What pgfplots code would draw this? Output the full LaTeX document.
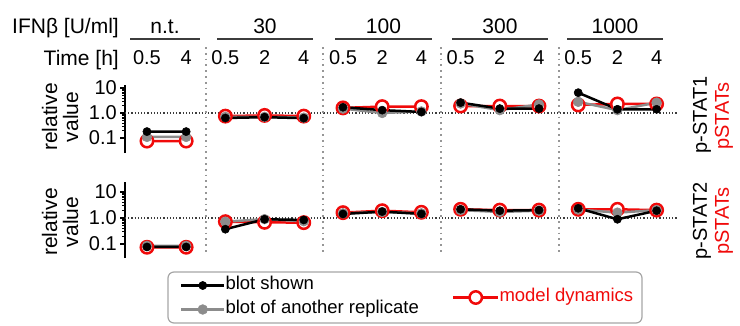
\documentclass[border=0pt]{standalone}
\usepackage{pgfplots}
\pgfplotsset{compat=1.18}
\usepackage{fontspec}
\setmainfont{Liberation Sans}
\definecolor{mred}{RGB}{240,10,10}
\definecolor{mgray}{RGB}{140,140,140}
\definecolor{sepgray}{RGB}{150,150,150}
\definecolor{hdr}{RGB}{60,60,60}
\tikzset{refline/.style={hdr, line width=1.2pt, dash pattern=on 1.2pt off 2pt}}
\pgfplotsset{
  blk/.style={black, line width=2.5pt, mark=*, mark size=4.1pt, mark options={line width=0.5pt}},
  gry/.style={mgray, line width=2.5pt, mark=*, mark size=4.9pt, mark options={line width=0.5pt}},
  mdl/.style={mred, line width=2.5pt, mark=*, mark size=6.2pt, mark options={fill=white, draw=mred, line width=2.5pt}},
}
\begin{document}
\begin{tikzpicture}[x=1pt,y=1pt]
\path[use as bounding box] (0,0) rectangle (740,325);
% ---------- Row 1: p-STAT1 ----------
\begin{axis}[at={(125pt,172pt)}, anchor=south west, width=552pt, height=68pt, scale only axis,
  xmin=-0.56, xmax=13.52,
  ymode=log, ymin=0.025, ymax=13.2,
  axis y line=left, axis x line=top,
  axis line style={-}, y axis line style={line width=1.8pt}, x axis line style={draw=none},
  ytick={0.1,1,10}, yticklabels={0.1,1.0,10},
  tick align=outside, major tick length=5pt, minor tick length=3pt,
  major tick style={black, line width=1.2pt},
  minor tick style={black, line width=0.6pt},
  yticklabel style={font=\fontsize{20}{20}\selectfont, inner sep=3pt},
  clip=false, unbounded coords=jump,
  xtick={0,...,13},
  xticklabels={0.5,4,0.5,2,4,0.5,2,4,0.5,2,4,0.5,2,4},
  xtick style={draw=none},
  xticklabel style={font=\fontsize{20}{20}\selectfont, anchor=base, yshift=16pt, inner sep=0pt},
  ]
\draw[refline] (axis cs:-0.56,1) -- (axis cs:13.52,1);
\coordinate (s1) at (axis cs:1.5,1);
\coordinate (s2) at (axis cs:4.5,1);
\coordinate (s3) at (axis cs:7.5,1);
\coordinate (s4) at (axis cs:10.5,1);
\addplot[mdl] coordinates {(0,0.075)(1,0.075)(1.5,nan)(2,0.75)(3,0.8)(4,0.75)(4.5,nan)(5,1.6)(6,1.8)(7,1.8)(7.5,nan)(8,1.9)(9,1.9)(10,1.9)(10.5,nan)(11,2.1)(12,2.3)(13,2.3)};
\addplot[gry] coordinates {(0,0.11)(1,0.11)(1.5,nan)(2,0.7)(3,0.7)(4,0.65)(4.5,nan)(5,1.5)(6,1.0)(7,1.15)(7.5,nan)(8,2.4)(9,1.3)(10,2.2)(10.5,nan)(11,2.8)(12,1.3)(13,2.6)};
\addplot[blk] coordinates {(0,0.18)(1,0.18)(1.5,nan)(2,0.63)(3,0.68)(4,0.62)(4.5,nan)(5,1.7)(6,1.3)(7,1.1)(7.5,nan)(8,2.6)(9,1.5)(10,1.5)(10.5,nan)(11,6.5)(12,1.4)(13,1.4)};
\end{axis}
% ---------- Row 2: p-STAT2 ----------
\begin{axis}[at={(125pt,67pt)}, anchor=south west, width=552pt, height=76pt, scale only axis,
  xmin=-0.56, xmax=13.52,
  ymode=log, ymin=0.029, ymax=24,
  axis y line=left, axis x line=none,
  axis line style={-}, y axis line style={line width=1.8pt},
  ytick={0.1,1,10}, yticklabels={0.1,1.0,10},
  tick align=outside, major tick length=5pt, minor tick length=3pt,
  major tick style={black, line width=1.2pt},
  minor tick style={black, line width=0.6pt},
  yticklabel style={font=\fontsize{20}{20}\selectfont, inner sep=3pt},
  clip=false, unbounded coords=jump,
  ]
\draw[refline] (axis cs:-0.56,1) -- (axis cs:13.52,1);
\addplot[mdl] coordinates {(0,0.075)(1,0.075)(1.5,nan)(2,0.72)(3,0.68)(4,0.66)(4.5,nan)(5,1.6)(6,1.9)(7,1.65)(7.5,nan)(8,2.15)(9,2.0)(10,2.0)(10.5,nan)(11,2.15)(12,2.15)(13,2.0)};
\addplot[gry] coordinates {(0,0.085)(1,0.085)(1.5,nan)(2,0.72)(3,0.9)(4,0.75)(4.5,nan)(5,1.5)(6,1.7)(7,1.5)(7.5,nan)(8,2.0)(9,1.7)(10,1.9)(10.5,nan)(11,2.1)(12,1.6)(13,2.0)};
\addplot[blk] coordinates {(0,0.077)(1,0.077)(1.5,nan)(2,0.37)(3,0.89)(4,0.84)(4.5,nan)(5,1.42)(6,1.75)(7,1.43)(7.5,nan)(8,2.15)(9,1.9)(10,2.0)(10.5,nan)(11,2.35)(12,0.89)(13,1.9)};
\end{axis}
% ---------- separators ----------
\foreach \s in {s1,s2,s3,s4}
  \draw[sepgray, line width=1.8pt, dash pattern=on 1.8pt off 4pt] (\s |- 0,278) -- (\s |- 0,73);
% ---------- header ----------
\node[anchor=base east, font=\fontsize{21}{21}\selectfont, inner sep=0pt] at (119,292) {IFNβ [U/ml]};
\node[anchor=base east, font=\fontsize{21}{21}\selectfont, inner sep=0pt] at (119,260) {Time [h]};
\foreach \a/\b/\t in {130/200/n.t., 217/313/30, 335/432/100, 452/548/300, 567/663/1000}{
  \draw[hdr, line width=1.5pt] (\a,286) -- (\b,286);
  \node[anchor=base, font=\fontsize{21}{21}\selectfont, inner sep=0pt] at ({(\a+\b)/2},292) {\t};
}
% ---------- y labels ----------
\node[rotate=90, align=center, font=\fontsize{21}{21}\selectfont, inner sep=0pt] at (60,208) {relative\\value};
\node[rotate=90, align=center, font=\fontsize{21}{21}\selectfont, inner sep=0pt] at (60,103) {relative\\value};
% ---------- right labels ----------
\node[rotate=90, font=\fontsize{20}{20}\selectfont, inner sep=0pt] at (702,210) {p-STAT1};
\node[rotate=90, font=\fontsize{20}{20}\selectfont, inner sep=0pt, text=mred] at (724,209) {pSTATs};
\node[rotate=90, font=\fontsize{20}{20}\selectfont, inner sep=0pt] at (702,104) {p-STAT2};
\node[rotate=90, font=\fontsize{20}{20}\selectfont, inner sep=0pt, text=mred] at (724,104) {pSTATs};
% ---------- legend ----------
\draw[rounded corners=6pt, gray!70, line width=1.2pt] (168,2) rectangle (642,53);
\begin{axis}[at={(0pt,0pt)}, anchor=south west, width=740pt, height=325pt, scale only axis,
  xmin=0, xmax=740, ymin=0, ymax=325, hide axis,
  legend cell align=left,
  legend image code/.code={\draw[mark repeat=2,mark phase=2,#1] plot coordinates {(0pt,0pt)(21.5pt,0pt)(43pt,0pt)};},
  legend style={at={(180/740,27.5/325)}, anchor=west, draw=none, fill=none, inner sep=0pt, outer sep=0pt,
    font=\fontsize{18.5}{18.5}\selectfont, row sep=5pt,
    nodes={inner sep=0pt, text height=13pt, text depth=6pt},
    /tikz/every even column/.append style={column sep=8pt}}]
\addlegendimage{blk}
\addlegendentry{blot shown}
\addlegendimage{gry}
\addlegendentry{blot of another replicate}
\end{axis}
\begin{axis}[at={(0pt,0pt)}, anchor=south west, width=740pt, height=325pt, scale only axis,
  xmin=0, xmax=740, ymin=0, ymax=325, hide axis,
  legend cell align=left,
  legend image code/.code={\draw[mark repeat=2,mark phase=2,#1] plot coordinates {(0pt,0pt)(22.5pt,0pt)(45pt,0pt)};},
  legend style={at={(452/740,27.5/325)}, anchor=west, draw=none, fill=none, inner sep=0pt, outer sep=0pt,
    font=\fontsize{18.5}{18.5}\selectfont,
    nodes={inner sep=0pt, text height=13pt, text depth=6pt},
    /tikz/every even column/.append style={column sep=4pt}}]
\addlegendimage{mdl}
\addlegendentry{\textcolor{mred}{model dynamics}}
\end{axis}
\end{tikzpicture}
\end{document}
